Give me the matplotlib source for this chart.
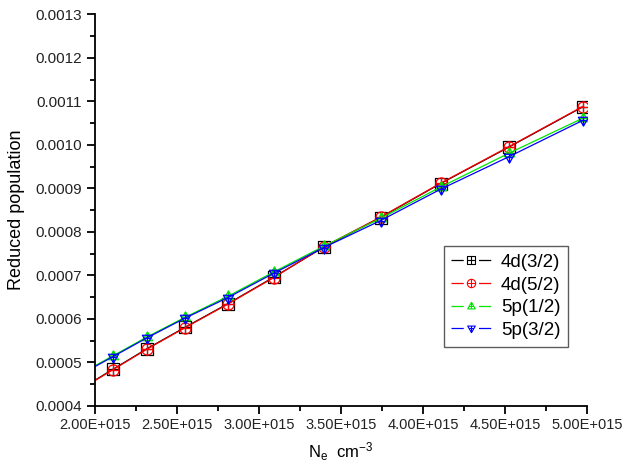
import numpy as np
import matplotlib
matplotlib.use("Agg")
import matplotlib.pyplot as plt
from matplotlib.path import Path
from matplotlib.lines import Line2D
from matplotlib.legend_handler import HandlerTuple
from matplotlib.ticker import MultipleLocator, FormatStrFormatter, FuncFormatter

plt.rcParams['font.family'] = ['Liberation Sans', 'DejaVu Sans']
plt.rcParams['mathtext.fontset'] = 'custom'
plt.rcParams['mathtext.rm'] = 'Liberation Sans'
plt.rcParams['mathtext.it'] = 'Liberation Sans'
plt.rcParams['lines.scale_dashes'] = False

# electron density (cm^-3), first point lies just off the left edge
ne = np.array([1.916, 2.108, 2.319, 2.55, 2.81, 3.09, 3.395,
               3.741, 4.107, 4.525, 4.973]) * 1e15

pop_4d32 = [0.000440, 0.000484, 0.000532, 0.000581, 0.000635, 0.000696,
            0.000765, 0.000833, 0.000911, 0.000995, 0.001087]
pop_4d52 = [0.000439, 0.000483, 0.000531, 0.000580, 0.000634, 0.000695,
            0.000766, 0.000834, 0.000912, 0.000996, 0.001088]
pop_5p12 = [0.000475, 0.000515, 0.000559, 0.000604, 0.000652, 0.000708,
            0.000767, 0.000831, 0.000903, 0.000981, 0.001061]
pop_5p32 = [0.000473, 0.000513, 0.000557, 0.000602, 0.000649, 0.000705,
            0.000764, 0.000826, 0.000898, 0.000973, 0.001056]

labels = ["4d(3/2)", "4d(5/2)", "5p(1/2)", "5p(3/2)"]
colors = ["#000000", "#ff0000", "#00e600", "#0000ff"]


# --- markers with a cross inside (Origin style) ---
cross = Path([(-1, 0), (1, 0), (0, -1), (0, 1)],
             [Path.MOVETO, Path.LINETO, Path.MOVETO, Path.LINETO])
square = Path([(-1, -1), (1, -1), (1, 1), (-1, 1), (-1, -1)],
              [Path.MOVETO, Path.LINETO, Path.LINETO, Path.LINETO, Path.CLOSEPOLY])
circle = Path.unit_circle()
tri_up = Path([(-1.1, -0.7), (1.1, -0.7), (0, 1.2), (-1.1, -0.7)],
              [Path.MOVETO, Path.LINETO, Path.LINETO, Path.CLOSEPOLY])
tri_dn = Path([(-1.1, 0.7), (1.1, 0.7), (0, -1.2), (-1.1, 0.7)],
              [Path.MOVETO, Path.LINETO, Path.LINETO, Path.CLOSEPOLY])
cross_t = Path([(-0.6, 0), (0.6, 0), (0, -0.7), (0, 1.2)],
               [Path.MOVETO, Path.LINETO, Path.MOVETO, Path.LINETO])
cross_d = Path([(-0.6, 0), (0.6, 0), (0, 0.7), (0, -1.2)],
               [Path.MOVETO, Path.LINETO, Path.MOVETO, Path.LINETO])

markers = [Path.make_compound_path(square, cross),
           Path.make_compound_path(circle, cross),
           Path.make_compound_path(tri_up, cross_t),
           Path.make_compound_path(tri_dn, cross_d)]

fig = plt.figure(figsize=(6.22, 4.66), dpi=100)
ax = fig.add_axes([0.1527, 0.1288, 0.7910, 0.8405])

series = [pop_4d32, pop_4d52, pop_5p12, pop_5p32]
handles = []
for y, lab, c, m in zip(series, labels, colors, markers):
    ax.plot(ne, y, color=c, lw=0.9, marker=m, markersize=8,
            markerfacecolor='none', markeredgecolor=c, markeredgewidth=0.9)
    # legend proxy: line broken around the marker
    seg = Line2D([], [], color=c, lw=0.9, linestyle=(0, (8.8, 11, 8.8, 40)))
    mk = Line2D([], [], ls='none', marker=m, markersize=6,
                markerfacecolor='none', markeredgecolor=c, markeredgewidth=0.8)
    handles.append((seg, mk))

ax.set_xlim(2.0e15, 5.0e15)
ax.set_ylim(0.0004, 0.0013)

ax.xaxis.set_major_locator(MultipleLocator(0.5e15))
ax.xaxis.set_minor_locator(MultipleLocator(0.25e15))
ax.yaxis.set_major_locator(MultipleLocator(0.0001))
ax.yaxis.set_minor_locator(MultipleLocator(0.00005))
ax.xaxis.set_major_formatter(FuncFormatter(lambda v, p: f"{v/1e15:.2f}E+015"))
ax.yaxis.set_major_formatter(FormatStrFormatter("%.4f"))

for s in ['top', 'right']:
    ax.spines[s].set_visible(False)
for s in ['left', 'bottom']:
    ax.spines[s].set_linewidth(1.3)

ax.tick_params(which='major', direction='out', length=6, width=1.3,
               labelsize=11, colors='black', labelcolor='#222222')
ax.tick_params(which='minor', direction='out', length=3.5, width=1.3)
ax.tick_params(axis='x', labelsize=10.5, pad=3)

ax.set_ylabel("Reduced population", fontsize=13, labelpad=7)
ax.set_xlabel(r"N$_e$  cm$^{-3}$", fontsize=12, labelpad=6)

leg = ax.legend(handles, labels, handler_map={tuple: HandlerTuple(ndivide=1)},
                loc='upper left', bbox_to_anchor=(0.709, 0.408),
                fontsize=13.5, frameon=True, fancybox=False, edgecolor='#333333',
                borderpad=0.4, labelspacing=0.3, handlelength=2.1,
                handletextpad=0.55, borderaxespad=0)
leg.get_frame().set_linewidth(1.0)

fig.savefig("out.png", dpi=100)
